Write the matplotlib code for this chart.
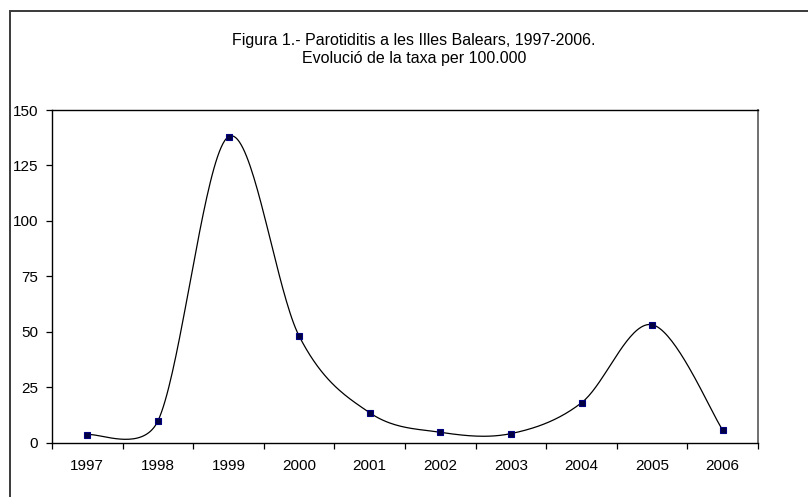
import numpy as np
import matplotlib.pyplot as plt
from matplotlib.patches import Rectangle

years = ['1997', '1998', '1999', '2000', '2001', '2002', '2003', '2004', '2005', '2006']
taxa = [3.6, 9.8, 138.0, 48.1, 13.5, 4.7, 4.1, 18.0, 53.2, 5.7]
yticks = [0, 25, 50, 75, 100, 125, 150]

plt.rcParams['font.family'] = ['Liberation Sans', 'DejaVu Sans']

fig = plt.figure(figsize=(8.08, 4.97), dpi=100)
ax = fig.add_axes([52/808, 1 - 442.7/497, 706/808, 332.7/497])

# outer chart border (runs off the right/bottom edge)
fig.patches.append(Rectangle((10/808, -0.1), 1.2, 1 - 11/497 + 0.1, transform=fig.transFigure,
                             fill=False, edgecolor='#3a3a3a', lw=1.4))

fig.text(414/808, 1 - 41/497, 'Figura 1.- Parotiditis a les Illes Balears, 1997-2006.',
         ha='center', va='center', fontsize=11.5)
fig.text(414/808, 1 - 59/497, 'Evolució de la taxa per 100.000',
         ha='center', va='center', fontsize=11.5)

x = np.arange(len(years))
ax.set_xlim(-0.5, len(years) - 0.5)
ax.set_ylim(0, 150)


def excel_smooth(xs, ys, n=40):
    # Excel-style smoothed line: bezier segments, control arms capped at half segment (screen space)
    pts = ax.transData.transform(np.column_stack([xs, ys]))
    p = np.vstack([pts[0], pts, pts[-1]])
    f = 1 / 6
    out = []
    t = np.linspace(0, 1, n)[:, None]
    for i in range(1, len(p) - 2):
        p0, p1, p2, p3 = p[i - 1], p[i], p[i + 1], p[i + 2]
        d12 = np.hypot(*(p2 - p1))
        d02 = np.hypot(*(p2 - p0))
        d13 = np.hypot(*(p3 - p1))
        s1 = 1.0 if d02 * f < d12 / 2 else (d12 / 2) / (d02 * f)
        s2 = 1.0 if d13 * f < d12 / 2 else (d12 / 2) / (d13 * f)
        c1 = p1 + f * (p2 - p0) * s1
        c2 = p2 - f * (p3 - p1) * s2
        seg = (1 - t)**3 * p1 + 3 * (1 - t)**2 * t * c1 + 3 * (1 - t) * t**2 * c2 + t**3 * p2
        out.append(seg)
    return ax.transData.inverted().transform(np.vstack(out))


curve = excel_smooth(x, taxa)
ax.plot(curve[:, 0], curve[:, 1], color='black', lw=0.9, clip_on=False)
ax.plot(x, taxa, ls='none', marker='s', ms=4.6, mfc='#000040', mec='#000080', mew=0.8,
        clip_on=False, zorder=3)

ax.set_yticks(yticks)
ax.set_xticks(x)
ax.set_xticklabels(years)
ax.set_xticks(np.arange(-0.5, len(years)), minor=True)
ax.tick_params(axis='x', which='major', length=0, pad=12, labelsize=11)
ax.tick_params(axis='x', which='minor', length=4, width=0.9, direction='out')
ax.tick_params(axis='y', length=4, width=0.9, pad=6, labelsize=11)

ax.spines['left'].set_linewidth(1.0)
ax.spines['bottom'].set_linewidth(1.0)
ax.spines['top'].set_linewidth(1.0)
ax.spines['right'].set_color('#707070')
ax.spines['right'].set_linewidth(1.4)

fig.savefig('out.png', dpi=100)
